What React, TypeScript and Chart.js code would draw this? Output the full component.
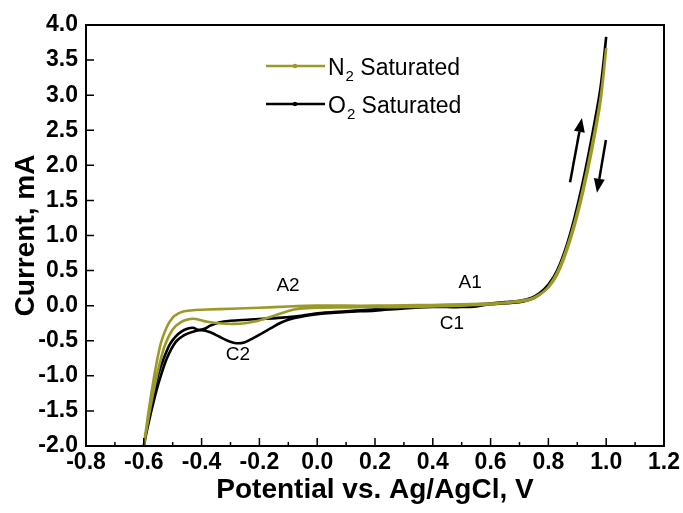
import React, { useEffect, useRef } from 'react';
import { Chart, registerables } from 'chart.js';

Chart.register(...registerables);

// ---- tick values / labels ----
const xTickValues = [-0.8, -0.6, -0.4, -0.2, 0.0, 0.2, 0.4, 0.6, 0.8, 1.0, 1.2];
const xTickLabels = ['-0.8', '-0.6', '-0.4', '-0.2', '0.0', '0.2', '0.4', '0.6', '0.8', '1.0', '1.2'];
const yTickValues = [-2.0, -1.5, -1.0, -0.5, 0.0, 0.5, 1.0, 1.5, 2.0, 2.5, 3.0, 3.5, 4.0];
const yTickLabels = ['-2.0', '-1.5', '-1.0', '-0.5', '0.0', '0.5', '1.0', '1.5', '2.0', '2.5', '3.0', '3.5', '4.0'];

// ---- N2 saturated CV (forward scan -0.6 -> 1.0, reverse 1.0 -> -0.6) ----
const n2ForwardV = [-0.6, -0.585, -0.57, -0.555, -0.54, -0.52, -0.5, -0.48, -0.46, -0.43, -0.38, -0.3, -0.2, -0.1, 0.0, 0.1, 0.2, 0.3, 0.4, 0.5, 0.6, 0.65, 0.7, 0.74, 0.77, 0.8, 0.83, 0.86, 0.89, 0.92, 0.95, 0.98, 1.0];
const n2ForwardI = [-2.0, -1.55, -1.15, -0.8, -0.52, -0.3, -0.17, -0.11, -0.08, -0.065, -0.055, -0.045, -0.03, -0.012, 0.0, 0.0, 0.0, 0.005, 0.01, 0.02, 0.03, 0.045, 0.07, 0.1, 0.16, 0.26, 0.44, 0.74, 1.13, 1.62, 2.2, 2.9, 3.67];
const n2ReverseV = [1.0, 0.98, 0.95, 0.92, 0.89, 0.86, 0.83, 0.8, 0.77, 0.74, 0.7, 0.6, 0.5, 0.4, 0.3, 0.2, 0.1, 0.0, -0.06, -0.1, -0.14, -0.2, -0.25, -0.29, -0.33, -0.38, -0.42, -0.44, -0.47, -0.5, -0.53, -0.555, -0.575, -0.59, -0.6];
const n2ReverseI = [3.67, 2.95, 2.27, 1.68, 1.18, 0.78, 0.47, 0.27, 0.16, 0.09, 0.055, 0.02, 0.0, -0.01, -0.02, -0.02, -0.025, -0.03, -0.045, -0.075, -0.13, -0.21, -0.25, -0.26, -0.255, -0.23, -0.19, -0.19, -0.23, -0.34, -0.6, -1.0, -1.4, -1.75, -2.0];

// ---- O2 saturated CV ----
const o2ForwardV = [-0.6, -0.585, -0.57, -0.55, -0.53, -0.51, -0.49, -0.47, -0.45, -0.43, -0.41, -0.39, -0.37, -0.34, -0.3, -0.24, -0.12, -0.05, 0.0, 0.1, 0.2, 0.3, 0.4, 0.5, 0.6, 0.65, 0.7, 0.74, 0.77, 0.8, 0.83, 0.86, 0.89, 0.92, 0.95, 0.98, 1.0];
const o2ForwardI = [-2.0, -1.65, -1.3, -0.98, -0.74, -0.55, -0.44, -0.37, -0.33, -0.315, -0.345, -0.33, -0.285, -0.24, -0.215, -0.2, -0.17, -0.14, -0.11, -0.08, -0.05, -0.03, -0.01, 0.01, 0.03, 0.05, 0.07, 0.11, 0.18, 0.3, 0.5, 0.82, 1.25, 1.78, 2.4, 3.1, 3.83];
const o2ReverseV = [1.0, 0.98, 0.95, 0.92, 0.89, 0.86, 0.83, 0.8, 0.77, 0.74, 0.7, 0.6, 0.55, 0.5, 0.45, 0.4, 0.3, 0.2, 0.1, 0.0, -0.06, -0.1, -0.13, -0.16, -0.19, -0.22, -0.25, -0.28, -0.31, -0.34, -0.37, -0.4, -0.43, -0.46, -0.49, -0.52, -0.545, -0.565, -0.585, -0.6];
const o2ReverseI = [3.83, 3.05, 2.35, 1.72, 1.2, 0.78, 0.46, 0.27, 0.16, 0.09, 0.05, 0.02, -0.01, -0.02, -0.02, -0.02, -0.04, -0.07, -0.09, -0.12, -0.16, -0.2, -0.25, -0.32, -0.39, -0.46, -0.52, -0.535, -0.5, -0.44, -0.38, -0.35, -0.37, -0.42, -0.52, -0.75, -1.05, -1.35, -1.7, -2.0];

// ---- legend ----
const legendMain = ['N', 'O'];
const legendSub = ['2', '2'];
const legendRest = [' Saturated', ' Saturated'];
const seriesColors = ['#9a9a26', '#000000'];

// ---- peak annotations ----
const peakLabels = ['A2', 'C2', 'A1', 'C1'];
const peakV = [-0.101, -0.274, 0.529, 0.466];
const peakI = [0.28, -0.7, 0.325, -0.26];

// ---- scan direction arrows (tail -> tip) ----
const arrowTailV = [0.875, 0.999];
const arrowTailI = [1.76, 2.36];
const arrowTipV = [0.916, 0.968];
const arrowTipI = [2.675, 1.61];

const toPoints = (v1: number[], i1: number[], v2: number[], i2: number[]) =>
  v1.map((v, k) => ({ x: v, y: i1[k] })).concat(v2.map((v, k) => ({ x: v, y: i2[k] })));

const FONT = "'Liberation Sans', Arial, sans-serif";

const decorPlugin = {
  id: 'decor',
  afterDraw(chart: any) {
    const ctx = chart.ctx;
    const xs = chart.scales.x;
    const ys = chart.scales.y;
    const { left, right, top, bottom } = chart.chartArea;
    ctx.save();
    // frame
    ctx.strokeStyle = '#000';
    ctx.lineWidth = 2;
    ctx.strokeRect(left, top, right - left, bottom - top);
    // ticks (inward)
    ctx.lineWidth = 1.5;
    ctx.beginPath();
    xTickValues.forEach((v, k) => {
      const px = xs.getPixelForValue(v);
      ctx.moveTo(px, bottom);
      ctx.lineTo(px, bottom - 8);
      if (k < xTickValues.length - 1) {
        const mx = xs.getPixelForValue((v + xTickValues[k + 1]) / 2);
        ctx.moveTo(mx, bottom);
        ctx.lineTo(mx, bottom - 4);
      }
    });
    yTickValues.forEach((v) => {
      const py = ys.getPixelForValue(v);
      ctx.moveTo(left, py);
      ctx.lineTo(left + 8, py);
    });
    ctx.stroke();

    // legend
    const legendYs = [66, 104];
    legendMain.forEach((m, k) => {
      const y = legendYs[k];
      ctx.strokeStyle = seriesColors[k];
      ctx.lineWidth = 2.5;
      ctx.beginPath();
      ctx.moveTo(266, y);
      ctx.lineTo(325, y);
      ctx.stroke();
      ctx.fillStyle = seriesColors[k];
      ctx.beginPath();
      ctx.arc(295, y, 2.2, 0, Math.PI * 2);
      ctx.fill();
      ctx.fillStyle = '#000';
      ctx.textBaseline = 'alphabetic';
      ctx.textAlign = 'left';
      ctx.font = `23px ${FONT}`;
      let x = 328;
      ctx.fillText(m, x, y + 8.5);
      x += ctx.measureText(m).width;
      ctx.font = `15px ${FONT}`;
      ctx.fillText(legendSub[k], x + 1, y + 15);
      x += ctx.measureText(legendSub[k]).width + 1;
      ctx.font = `23px ${FONT}`;
      ctx.fillText(legendRest[k], x, y + 8.5);
    });

    // peak labels
    ctx.fillStyle = '#000';
    ctx.font = `19px ${FONT}`;
    ctx.textAlign = 'center';
    ctx.textBaseline = 'middle';
    peakLabels.forEach((t, k) => {
      ctx.fillText(t, xs.getPixelForValue(peakV[k]), ys.getPixelForValue(peakI[k]));
    });

    // arrows
    ctx.strokeStyle = '#000';
    ctx.fillStyle = '#000';
    arrowTailV.forEach((_, k) => {
      const x1 = xs.getPixelForValue(arrowTailV[k]);
      const y1 = ys.getPixelForValue(arrowTailI[k]);
      const x2 = xs.getPixelForValue(arrowTipV[k]);
      const y2 = ys.getPixelForValue(arrowTipI[k]);
      const ang = Math.atan2(y2 - y1, x2 - x1);
      const headLen = 14;
      const headW = 5.5;
      const bx = x2 - headLen * Math.cos(ang);
      const by = y2 - headLen * Math.sin(ang);
      ctx.lineWidth = 2.5;
      ctx.beginPath();
      ctx.moveTo(x1, y1);
      ctx.lineTo(bx, by);
      ctx.stroke();
      ctx.beginPath();
      ctx.moveTo(x2, y2);
      ctx.lineTo(bx + headW * Math.sin(ang), by - headW * Math.cos(ang));
      ctx.lineTo(bx - headW * Math.sin(ang), by + headW * Math.cos(ang));
      ctx.closePath();
      ctx.fill();
    });
    ctx.restore();
  },
};

export default function App() {
  const canvasRef = useRef<HTMLCanvasElement | null>(null);

  useEffect(() => {
    document.body.style.margin = '0';
    const canvas = canvasRef.current;
    if (!canvas) return;
    const tickFont = { family: FONT, size: 23, weight: 'bold' as const };
    const titleFont = { family: FONT, size: 28, weight: 'bold' as const };
    const chart = new Chart(canvas, {
      type: 'scatter',
      data: {
        datasets: [
          {
            label: 'N2 Saturated',
            data: toPoints(n2ForwardV, n2ForwardI, n2ReverseV, n2ReverseI),
            showLine: true,
            borderColor: seriesColors[0],
            backgroundColor: seriesColors[0],
            borderWidth: 2.6,
            pointRadius: 0,
            tension: 0.3,
          },
          {
            label: 'O2 Saturated',
            data: toPoints(o2ForwardV, o2ForwardI, o2ReverseV, o2ReverseI),
            showLine: true,
            borderColor: seriesColors[1],
            backgroundColor: seriesColors[1],
            borderWidth: 2.6,
            pointRadius: 0,
            tension: 0.3,
          },
        ],
      },
      options: {
        animation: false,
        responsive: false,
        maintainAspectRatio: false,
        layout: { padding: { left: 0, right: 19, top: 25, bottom: 0 } },
        plugins: { legend: { display: false }, tooltip: { enabled: false } },
        scales: {
          x: {
            type: 'linear',
            min: -0.8,
            max: 1.2,
            afterBuildTicks: (s: any) => {
              s.ticks = xTickValues.map((v) => ({ value: v }));
            },
            afterFit: (s: any) => {
              s.height = 67;
            },
            grid: { display: false, drawTicks: false },
            border: { display: false },
            ticks: {
              autoSkip: false,
              maxRotation: 0,
              padding: 3,
              color: '#000',
              font: tickFont,
              callback: (_v: any, i: number) => xTickLabels[i],
            },
            title: {
              display: true,
              text: 'Potential vs. Ag/AgCl, V',
              color: '#000',
              font: titleFont,
              padding: 6,
            },
          },
          y: {
            type: 'linear',
            min: -2,
            max: 4,
            afterBuildTicks: (s: any) => {
              s.ticks = yTickValues.map((v) => ({ value: v }));
            },
            afterFit: (s: any) => {
              s.width = 86;
            },
            grid: { display: false, drawTicks: false },
            border: { display: false },
            ticks: {
              autoSkip: false,
              padding: 8,
              color: '#000',
              font: tickFont,
              callback: (_v: any, i: number) => yTickLabels[i],
            },
            title: {
              display: true,
              text: 'Current, mA',
              color: '#000',
              font: titleFont,
              padding: 9,
            },
          },
        },
      },
      plugins: [decorPlugin],
    });
    return () => chart.destroy();
  }, []);

  return (
    <div style={{ width: 683, height: 513 }}>
      <canvas ref={canvasRef} width={683} height={513} style={{ display: 'block' }} />
    </div>
  );
}
